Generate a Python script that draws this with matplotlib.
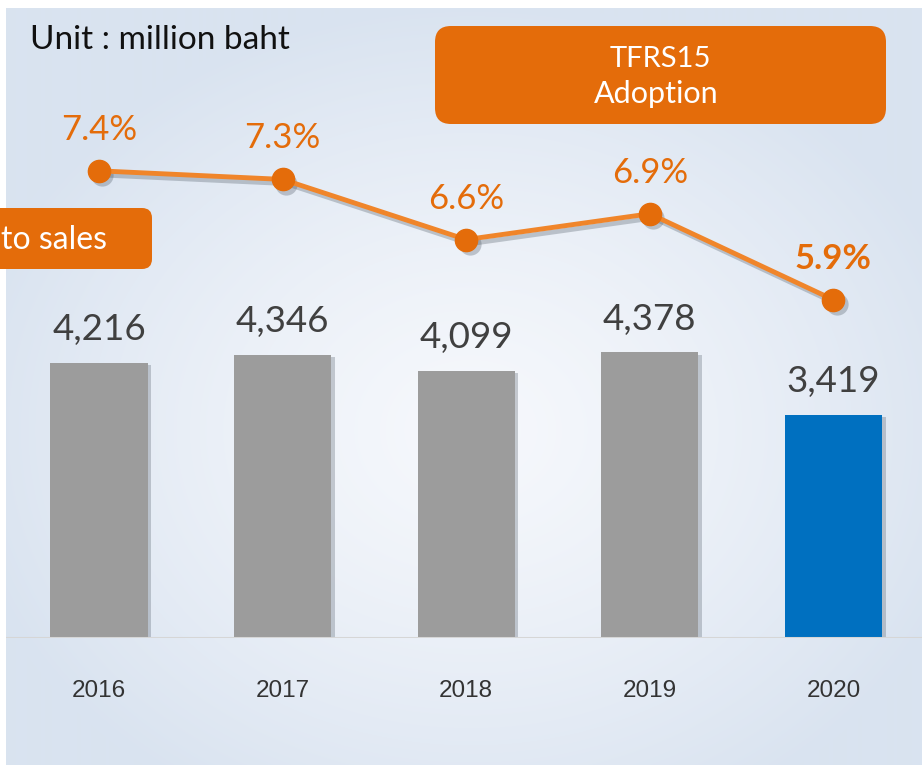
import matplotlib
matplotlib.use("Agg")
import matplotlib.pyplot as plt
import matplotlib.patheffects as pe
import matplotlib.transforms as mtransforms
from matplotlib.patches import FancyBboxPatch
import numpy as np

years = ["2016", "2017", "2018", "2019", "2020"]
sales_cost = [4216, 4346, 4099, 4378, 3419]
ratio_pct = [7.4, 7.3, 6.6, 6.9, 5.9]
bar_colors = ["#9c9c9c", "#9c9c9c", "#9c9c9c", "#9c9c9c", "#0070c0"]

ORANGE = "#e46c0a"
LINE_ORANGE = "#f0852a"
W, H = 922, 765

plt.rcParams['font.family'] = ['Lato', 'DejaVu Sans']

fig = plt.figure(figsize=(W / 100, H / 100), dpi=100)
fig.patch.set_facecolor("white")

# background panel with soft radial gradient
bg = fig.add_axes([6 / W, 0, (W - 6) / W, (H - 8) / H], zorder=0)
yy, xx = np.mgrid[8:H, 6:W]
r = np.sqrt(((xx - 470) / 520.0) ** 2 + ((yy - 430) / 430.0) ** 2)
r = np.clip(r, 0, 1) ** 1.3
c0 = np.array([246, 248, 252]) / 255.0
c1 = np.array([217, 227, 240]) / 255.0
img = c0[None, None, :] * (1 - r[..., None]) + c1[None, None, :] * r[..., None]
bg.imshow(img, aspect="auto", extent=[0, 1, 0, 1])
bg.set_axis_off()

# main axes: baseline at 638 px, top at 8 px
bottom = (H - 638) / H
height = (638 - 8) / H
ax = fig.add_axes([6 / W, bottom, (W - 6) / W, height], zorder=1)
ax.patch.set_alpha(0)
x = np.arange(len(years))
bars = ax.bar(x, sales_cost, width=0.53, color=bar_colors, zorder=3)
for b in bars:
    b.set_path_effects([pe.SimplePatchShadow(offset=(2.5, -1.5), shadow_rgbFace="#55606c", alpha=0.3),
                        pe.Normal()])
ax.set_xlim(-0.5065, 4.4826)
ax.set_ylim(0, 9660)
ax.axhline(0, color="#d6d6d6", lw=2.2, zorder=4,
           path_effects=[pe.SimpleLineShadow(offset=(0, -2), alpha=0.2), pe.Normal()])
for xi, v in zip(x, sales_cost):
    ax.annotate(f"{v:,}", (xi, v), xytext=(0, 24), textcoords="offset points",
                ha="center", va="center", fontsize=26.5, color="#404040")
ax.set_xticks(x)
ax.set_xticklabels(years, fontsize=17.5, color="#333333", family=["Liberation Sans", "DejaVu Sans"])
ax.tick_params(axis="x", length=0, pad=30)
ax.set_yticks([])
for s in ax.spines.values():
    s.set_visible(False)

# ratio line on secondary axis
ax2 = ax.twinx()
ax2.set_zorder(2)
ax2.patch.set_alpha(0)
shadow_tr = mtransforms.offset_copy(ax2.transData, fig=fig, x=2.5, y=-3, units="points")
ax2.plot(x, ratio_pct, color="#4a5560", alpha=0.3, lw=3.5, marker="o", markersize=16,
         markeredgecolor="none", transform=shadow_tr, zorder=4)
ax2.plot(x, ratio_pct, color=LINE_ORANGE, lw=3.5, marker="o", markersize=16,
         markerfacecolor=ORANGE, markeredgecolor=ORANGE, zorder=5)
ax2.set_ylim(1.965, 9.294)
ax2.set_yticks([])
for s in ax2.spines.values():
    s.set_visible(False)
for i, (xi, p) in enumerate(zip(x, ratio_pct)):
    last = i == len(x) - 1
    ax2.annotate(f"{p}%", (xi, p), xytext=(0, 29.5), textcoords="offset points",
                 ha="center", va="center", fontsize=25, color=ORANGE,
                 fontweight="bold" if last else "normal")

# overlay in pixel coordinates for the call-out boxes and unit note
ov = fig.add_axes([0, 0, 1, 1], zorder=3)
ov.set_xlim(0, W)
ov.set_ylim(H, 0)
ov.set_axis_off()
ov.patch.set_alpha(0)

ov.add_patch(FancyBboxPatch((435, 26), 451, 98, boxstyle="round,pad=0,rounding_size=16",
                            facecolor=ORANGE, edgecolor="none"))
ov.text(660, 59, "TFRS15", ha="center", va="center", fontsize=21, color="white")
ov.text(656, 94, "Adoption", ha="center", va="center", fontsize=22, color="white")

ov.add_patch(FancyBboxPatch((-30, 208), 182, 61, boxstyle="round,pad=0,rounding_size=10",
                            facecolor=ORANGE, edgecolor="none"))
ov.text(1, 240, "to sales", ha="left", va="center", fontsize=23, color="white")

ov.text(30, 40, "Unit : million baht", ha="left", va="center", fontsize=24, color="#111111")

fig.savefig("out.png", dpi=100)
